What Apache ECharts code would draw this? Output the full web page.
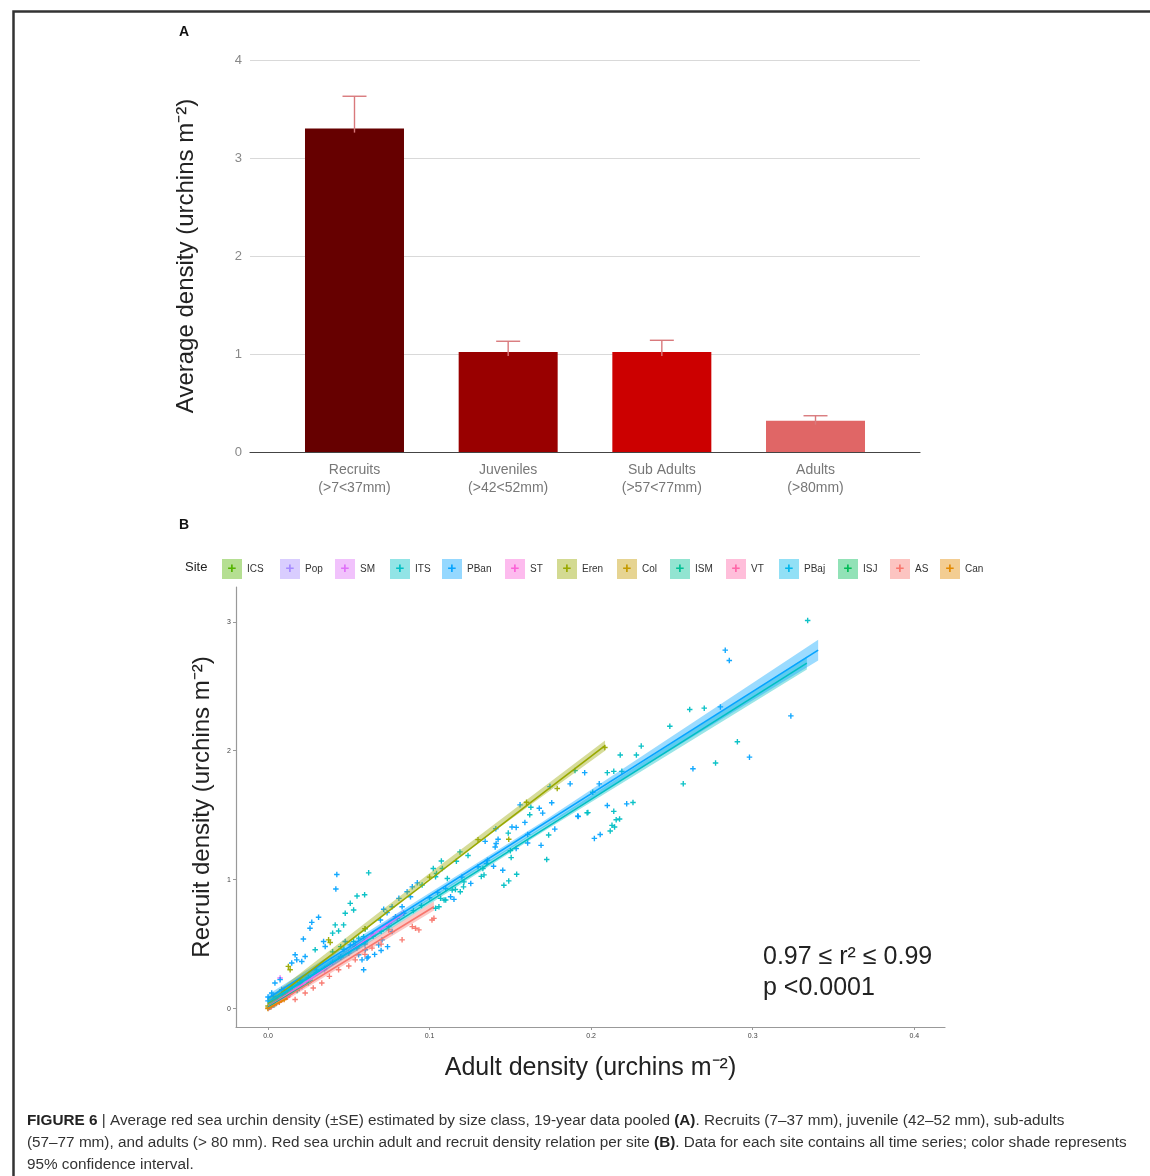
<!DOCTYPE html>
<html><head><meta charset="utf-8">
<script src="https://cdn.jsdelivr.net/npm/echarts@6/dist/echarts.min.js"></script>
<style>html,body{margin:0;padding:0;background:#fff}#c{width:1150px;height:1176px}</style>
</head><body><div id="c"></div>
<script>
// ---------- Panel A data ----------
const classNames = ['Recruits', 'Juveniles', 'Sub Adults', 'Adults'];
const classRanges = ['(>7<37mm)', '(>42<52mm)', '(>57<77mm)', '(>80mm)'];
const classPos = [1, 2, 3, 4];
const avgDensity = [3.30, 1.02, 1.02, 0.32];
const seUpper = [3.63, 1.13, 1.14, 0.37];
const barColors = ['#660000', '#990000', '#cc0000', '#e06666'];
const yTicksA = [0, 1, 2, 3, 4];

// ---------- Panel B data ----------
const sites = ['ICS', 'Pop', 'SM', 'ITS', 'PBan', 'ST', 'Eren', 'Col', 'ISM', 'VT', 'PBaj', 'ISJ', 'AS', 'Can'];
const siteColors = ['#53B400', '#A58AFF', '#DF70F8', '#00BFC4', '#06A4FF', '#FB61D7', '#99A800', '#C49A00', '#00C094', '#FF66A8', '#00B6EB', '#00BC56', '#F8766D', '#E38900'];
const xTicksB = [0, 0.1, 0.2, 0.3, 0.4];
const yTicksB = [0, 1, 2, 3];

const pts_ICS = [[0.001,0.01],[0.004,0.04],[0.009,0.08],[0.012,0.11]];
const pts_Pop = [[0.002,0.02],[0.006,0.06],[0.012,0.1],[0.018,0.15],[0.021,0.17]];
const pts_SM = [[0.005,0.05],[0.015,0.13],[0.0075,0.237],[0.025,0.22],[0.035,0.3],[0.045,0.4],[0.055,0.48],[0.065,0.57],[0.075,0.66],[0.084,0.74],[0.02,0.2],[0.01,0.15]];
const pts_ITS = [[0.334,3.01],[0.261,2.32],[0.270,2.33],[0.2487,2.19],[0.2905,2.07],[0.277,1.905],[0.231,2.036],[0.218,1.967],[0.228,1.967],[0.210,1.83],[0.214,1.84],[0.219,1.84],[0.2118,1.377],[0.2145,1.408],[0.2129,1.421],[0.2155,1.465],[0.2176,1.47],[0.214,1.53],[0.2259,1.598],[0.198,1.52],[0.19,1.846],[0.257,1.743],[0.1627,1.562],[0.162,1.503],[0.1487,1.361],[0.1737,1.346],[0.1188,1.215],[0.1073,1.145],[0.1023,1.086],[0.1043,1.048],[0.1037,1.022],[0.1166,1.143],[0.1238,1.187],[0.133,1.086],[0.132,1.025],[0.1337,1.037],[0.15,1.225],[0.1505,1.171],[0.1725,1.156],[0.1539,1.042],[0.146,0.957],[0.149,0.99],[0.111,1.009],[0.114,0.919],[0.116,0.924],[0.119,0.906],[0.121,0.944],[0.1213,0.983],[0.1068,0.855],[0.109,0.842],[0.1058,0.79],[0.1975,1.519],[0.201,1.678],[0.0623,1.053],[0.0551,0.873],[0.0598,0.883],[0.0509,0.816],[0.053,0.765],[0.0478,0.739],[0.0416,0.649],[0.0468,0.649],[0.04,0.585],[0.0437,0.602],[0.0292,0.456],[0.0602,0.618],[0.053,0.52],[0.0561,0.546],[0.0592,0.558],[0.0954,0.958],[0.1037,0.778],[0.11,0.842],[0.1079,1.086],[0.047,0.46],[0.04,0.44],[0.045,0.48],[0.02,0.2],[0.03,0.3],[0.01,0.1],[0.065,0.58],[0.08,0.7],[0.09,0.76],[0.095,0.8]];
const pts_PBan = [[0.283,2.78],[0.2855,2.70],[0.280,2.34],[0.3236,2.27],[0.298,1.95],[0.263,1.86],[0.202,1.32],[0.2056,1.35],[0.210,1.575],[0.222,1.588],[0.192,1.49],[0.187,1.743],[0.196,1.83],[0.1745,1.722],[0.1756,1.596],[0.156,1.58],[0.1679,1.554],[0.170,1.516],[0.159,1.444],[0.151,1.408],[0.1536,1.405],[0.141,1.395],[0.1607,1.351],[0.1775,1.392],[0.1424,1.313],[0.1412,1.28],[0.1406,1.253],[0.1344,1.297],[0.1358,1.151],[0.1352,1.125],[0.1396,1.104],[0.1453,1.073],[0.1536,1.241],[0.1607,1.284],[0.169,1.266],[0.1255,0.971],[0.113,0.867],[0.1151,0.847],[0.1917,1.493],[0.205,1.743],[0.0426,1.04],[0.042,0.927],[0.0313,0.708],[0.0271,0.669],[0.026,0.623],[0.0219,0.54],[0.0344,0.52],[0.0354,0.481],[0.0168,0.417],[0.023,0.404],[0.0178,0.378],[0.0209,0.365],[0.0147,0.353],[0.0043,0.198],[0.0075,0.224],[0.0023,0.121],[0.0033,0.095],[0.0085,0.147],[0.0478,0.52],[0.0509,0.494],[0.054,0.481],[0.0582,0.378],[0.0613,0.391],[0.0561,0.417],[0.0716,0.77],[0.0737,0.744],[0.0768,0.79],[0.0789,0.713],[0.083,0.79],[0.0861,0.906],[0.0893,0.944],[0.0924,0.975],[0.0882,0.867],[0.081,0.855],[0.084,0.739],[0.0747,0.636],[0.0696,0.687],[0.0768,0.597],[0.0706,0.533],[0.0685,0.494],[0.0602,0.456],[0.0592,0.301],[0.01,0.12],[0.015,0.17],[0.02,0.2],[0.025,0.24],[0.03,0.28],[0.035,0.31],[0.04,0.36],[0.045,0.4],[0.05,0.43],[0.055,0.47],[0.06,0.52],[0.065,0.56],[0.07,0.6],[0.1,0.86],[0.105,0.9],[0.11,0.93],[0.12,1.02],[0.13,1.1],[0.005,0.08],[0.0,0.06],[0.0,0.09],[0.003,0.05],[0.062,0.40],[0.066,0.42],[0.07,0.45],[0.074,0.48]];
const pts_ST = [[0.003,0.03],[0.008,0.07],[0.014,0.13],[0.02,0.18]];
const pts_Eren = [[0.0126,0.327],[0.0137,0.301],[0.0375,0.533],[0.0385,0.512],[0.149,1.313],[0.179,1.707],[0.2085,2.025],[0.0,0.02],[0.005,0.07],[0.02,0.22],[0.06,0.62],[0.1,1.02],[0.13,1.31],[0.16,1.6]];
const pts_Col = [[0.0,0.0],[0.002,0.015],[0.005,0.04],[0.01,0.08]];
const pts_ISM = [[0.004,0.03],[0.01,0.09],[0.018,0.14],[0.025,0.2]];
const pts_VT = [[0.002,0.02],[0.007,0.05],[0.012,0.09]];
const pts_PBaj = [[0.004,0.07],[0.01,0.13],[0.02,0.2],[0.03,0.28],[0.045,0.4],[0.06,0.5]];
const pts_ISJ = [[0.001,0.01],[0.003,0.025]];
const pts_AS = [[0.0913,0.623],[0.0934,0.61],[0.0893,0.636],[0.083,0.533],[0.1015,0.687],[0.0747,0.61],[0.0333,0.198],[0.023,0.121],[0.0168,0.07],[0.0437,0.301],[0.054,0.378],[0.0644,0.469],[0.0023,0.031],[0.0043,0.044],[0.0085,0.07],[0.1027,0.70],[0.028,0.16],[0.038,0.25],[0.05,0.33],[0.06,0.42],[0.07,0.5],[0.012,0.09]];
const pts_Can = [[0.0,0.005],[0.002,0.02],[0.004,0.035],[0.007,0.05],[0.01,0.07]];

// fitted lines (start, end) per site
const fit_ICS = [[0,0],[0.012,0.1]];
const fit_Pop = [[0,0.01],[0.021,0.17]];
const fit_SM = [[0,0],[0.084,0.74]];
const fit_ITS = [[0,0.04],[0.3335,2.68]];
const fit_PBan = [[0,0.08],[0.3405,2.78]];
const fit_ST = [[0,0.01],[0.022,0.19]];
const fit_Eren = [[0,0.04],[0.2086,2.04]];
const fit_Col = [[0,0],[0.012,0.09]];
const fit_ISM = [[0,0.01],[0.028,0.22]];
const fit_VT = [[0,0],[0.014,0.1]];
const fit_PBaj = [[0,0.05],[0.062,0.53]];
const fit_ISJ = [[0,0],[0.005,0.04]];
const fit_AS = [[0,0],[0.1027,0.79]];
const fit_Can = [[0,0],[0.012,0.08]];

// 95% CI bands [x, lower, upper]
const ci_ITS = [[0,0.01,0.07],[0.17,1.37,1.41],[0.3335,2.63,2.73]];
const ci_PBan = [[0,0.05,0.11],[0.17,1.40,1.45],[0.3405,2.70,2.86]];
const ci_Eren = [[0,0.0,0.08],[0.1,1.01,1.05],[0.2086,2.00,2.08]];
const ci_SM = [[0,-0.02,0.03],[0.084,0.71,0.77]];
const ci_AS = [[0,-0.02,0.03],[0.1027,0.76,0.83]];
const ci_PBaj = [[0,0.02,0.08],[0.062,0.50,0.56]];

const ptsBy = {ICS:pts_ICS,Pop:pts_Pop,SM:pts_SM,ITS:pts_ITS,PBan:pts_PBan,ST:pts_ST,Eren:pts_Eren,Col:pts_Col,ISM:pts_ISM,VT:pts_VT,PBaj:pts_PBaj,ISJ:pts_ISJ,AS:pts_AS,Can:pts_Can};
const fitBy = {ICS:fit_ICS,Pop:fit_Pop,SM:fit_SM,ITS:fit_ITS,PBan:fit_PBan,ST:fit_ST,Eren:fit_Eren,Col:fit_Col,ISM:fit_ISM,VT:fit_VT,PBaj:fit_PBaj,ISJ:fit_ISJ,AS:fit_AS,Can:fit_Can};
const ciBy = {ITS:ci_ITS,PBan:ci_PBan,Eren:ci_Eren,SM:ci_SM,AS:ci_AS,PBaj:ci_PBaj};

// ---------- layout ----------
const legendLeft = [222, 280, 335, 390, 442, 505, 557, 617, 670, 726, 779, 838, 890, 940];
const FONT = "'Liberation Sans', Arial, sans-serif";

function rgba(hex, a) {
  const n = parseInt(hex.slice(1), 16);
  return 'rgba(' + ((n >> 16) & 255) + ',' + ((n >> 8) & 255) + ',' + (n & 255) + ',' + a + ')';
}

const chart = echarts.init(document.getElementById('c'), null, {renderer: 'canvas'});

const series = [];
// bars
series.push({
  type: 'bar', xAxisIndex: 0, yAxisIndex: 0, barWidth: 99,
  data: classPos.map((p, i) => ({value: [p, avgDensity[i]], itemStyle: {color: barColors[i]}})),
  silent: true
});
// error bars
series.push({
  type: 'custom', xAxisIndex: 0, yAxisIndex: 0, z: 5,
  data: classPos.map((p, i) => [p, avgDensity[i], seUpper[i]]),
  encode: {x: 0, y: [1, 2]},
  renderItem: function (params, api) {
    const p0 = api.coord([api.value(0), api.value(1)]);
    const p1 = api.coord([api.value(0), api.value(2)]);
    const st = {stroke: '#d9797c', lineWidth: 1.4};
    return {type: 'group', children: [
      {type: 'line', shape: {x1: p0[0], y1: p0[1] + 4, x2: p1[0], y2: p1[1]}, style: st},
      {type: 'line', shape: {x1: p1[0] - 12, y1: p1[1], x2: p1[0] + 12, y2: p1[1]}, style: st}
    ]};
  }
});

// scatter points first (legend icon source)
sites.forEach((s, i) => {
  series.push({
    name: s, type: 'scatter', xAxisIndex: 1, yAxisIndex: 1, z: 2,
    symbol: 'path://M3,0H5V3H8V5H5V8H3V5H0V3H3Z', symbolSize: 5.5,
    itemStyle: {color: siteColors[i], opacity: 0.95},
    data: ptsBy[s], silent: true
  });
});
// CI bands
sites.forEach((s, i) => {
  const ci = ciBy[s];
  if (!ci) return;
  series.push({
    name: s, type: 'custom', xAxisIndex: 1, yAxisIndex: 1, z: 3,
    data: ci, encode: {x: 0, y: [1, 2]}, silent: true,
    renderItem: function (params, api) {
      if (params.dataIndex !== 0) return;
      const up = ci.map(d => api.coord([d[0], d[2]]));
      const lo = ci.map(d => api.coord([d[0], d[1]])).reverse();
      return {type: 'polygon', shape: {points: up.concat(lo)}, style: {fill: rgba(siteColors[i], 0.4)}};
    }
  });
});
// fitted lines
sites.forEach((s, i) => {
  series.push({
    name: s, type: 'line', xAxisIndex: 1, yAxisIndex: 1, z: 4,
    data: fitBy[s], showSymbol: false, silent: true,
    lineStyle: {color: siteColors[i], width: 1.6}
  });
});

const legends = sites.map((s, i) => ({
  data: [{name: s, icon: 'rect', itemStyle: {color: rgba(siteColors[i], 0.45)}}],
  left: legendLeft[i] - 5, top: 554, padding: 5, itemWidth: 20, itemHeight: 20, itemGap: 0,
  selectedMode: false, textStyle: {fontSize: 10, color: '#333', fontFamily: FONT}
}));

const graphics = [
  {type: 'rect', left: 11, top: 9, shape: {width: 1200, height: 1200}, style: {fill: 'none', stroke: '#333', lineWidth: 2.5}},
  {type: 'text', left: 179, top: 25, style: {text: 'A', font: 'bold 14px ' + FONT, fill: '#111'}},
  {type: 'text', left: 179, top: 518, style: {text: 'B', font: 'bold 14px ' + FONT, fill: '#111'}},
  {type: 'text', left: 185, top: 561, style: {text: 'Site', font: '13px ' + FONT, fill: '#222'}},
  {type: 'text', left: 763, top: 945, style: {text: '0.97 ≤ r² ≤ 0.99', font: '25px ' + FONT, fill: '#222'}},
  {type: 'text', left: 763, top: 976, style: {text: 'p <0.0001', font: '25px ' + FONT, fill: '#222'}},
  {type: 'text', left: 27, top: 1110, style: {
    text: '{b|FIGURE 6} | Average red sea urchin density (±SE) estimated by size class, 19-year data pooled {b|(A)}. Recruits (7–37 mm), juvenile (42–52 mm), sub-adults\n(57–77 mm), and adults (> 80 mm). Red sea urchin adult and recruit density relation per site {b|(B)}. Data for each site contains all time series; color shade represents\n95% confidence interval.',
    font: '15.3px ' + FONT, fill: '#333', lineHeight: 22,
    rich: {b: {fontWeight: 'bold', fontSize: 15.3, fontFamily: FONT, fill: '#222'}}
  }}
];
sites.forEach((s, i) => {
  graphics.push({type: 'text', x: legendLeft[i] + 10, y: 569, z: 100,
    style: {text: '+', font: 'bold 15px ' + FONT, fill: siteColors[i], align: 'center', verticalAlign: 'middle'}});
});

const option = {
  backgroundColor: '#fff',
  animation: false,
  textStyle: {fontFamily: FONT},
  grid: [
    {left: 250, right: 230, top: 60, bottom: 724},
    {left: 236, right: 205, top: 587, bottom: 149}
  ],
  xAxis: [
    {gridIndex: 0, type: 'value', min: 0.32, max: 4.68,
      axisLine: {show: true, lineStyle: {color: '#444', width: 1.2}}, axisTick: {show: false}, splitLine: {show: false},
      axisLabel: {customValues: classPos, color: '#777', fontSize: 14, lineHeight: 18, margin: 9,
        formatter: v => classNames[classPos.indexOf(v)] + '\n' + classRanges[classPos.indexOf(v)]}},
    {gridIndex: 1, type: 'value', min: -0.0198, max: 0.419,
      name: 'Adult density (urchins m⁻²)', nameLocation: 'middle', nameGap: 29,
      nameTextStyle: {fontSize: 25, color: '#222'},
      axisLine: {show: true, onZero: false, lineStyle: {color: '#999', width: 1.2}},
      axisTick: {show: true, customValues: xTicksB, length: 3, lineStyle: {color: '#999'}},
      splitLine: {show: false},
      axisLabel: {customValues: xTicksB, fontSize: 7, color: '#444', margin: 6, formatter: v => v.toFixed(1)}}
  ],
  yAxis: [
    {gridIndex: 0, type: 'value', min: 0, max: 4, interval: 1,
      name: 'Average density (urchins m⁻²)', nameLocation: 'middle', nameGap: 52, nameRotate: 90,
      nameTextStyle: {fontSize: 24, color: '#222'},
      axisLine: {show: false}, axisTick: {show: false},
      splitLine: {show: true, lineStyle: {color: '#d9d9d9', width: 1}},
      axisLabel: {color: '#888', fontSize: 13, margin: 8, customValues: yTicksA}},
    {gridIndex: 1, type: 'value', min: -0.143, max: 3.27,
      name: 'Recruit density (urchins m⁻²)', nameLocation: 'middle', nameGap: 22, nameRotate: 90,
      nameTextStyle: {fontSize: 24, color: '#222'},
      axisLine: {show: true, onZero: false, lineStyle: {color: '#999', width: 1.2}},
      axisTick: {show: true, customValues: yTicksB, length: 3, lineStyle: {color: '#999'}},
      splitLine: {show: false},
      axisLabel: {customValues: yTicksB, fontSize: 7, color: '#444', margin: 5}}
  ],
  legend: legends,
  graphic: graphics,
  series: series
};
chart.setOption(option);
</script>
</body></html>
